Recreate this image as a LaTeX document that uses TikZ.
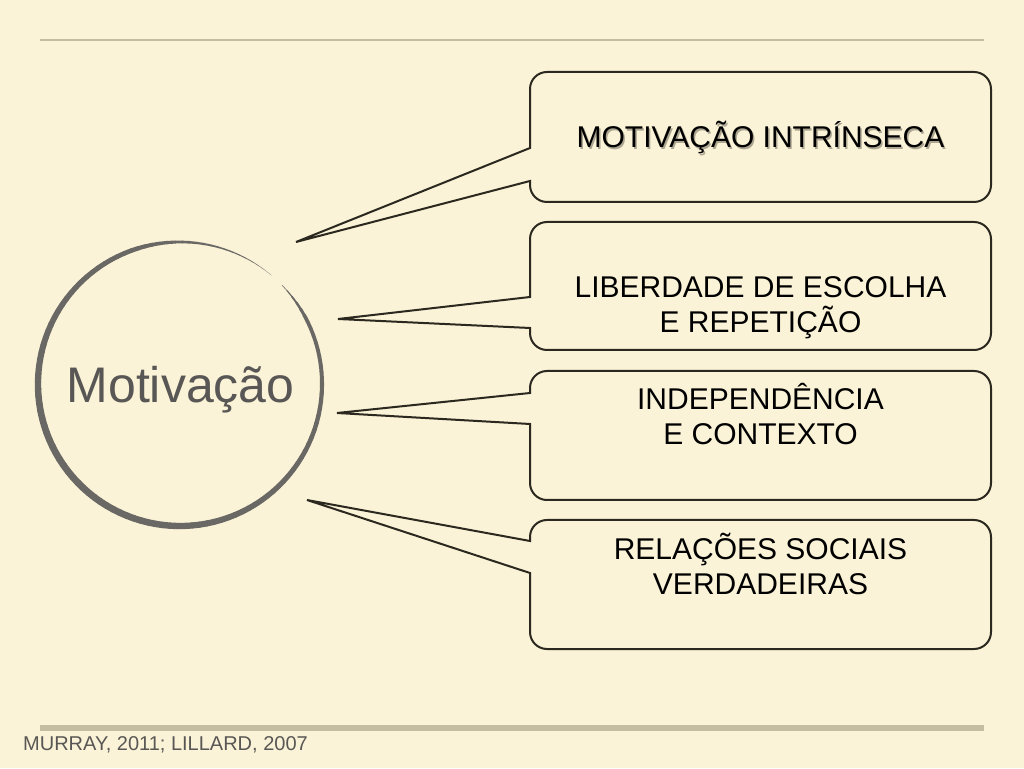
\documentclass[tikz,border=0pt]{standalone}
\usepackage{fontspec}
\setmainfont{Liberation Sans}
\usetikzlibrary{positioning}
\definecolor{PaperBg}{HTML}{FBF3D7}
\definecolor{RuleGray}{HTML}{C5BDA2}
\definecolor{RingGray}{HTML}{6A6864}
\definecolor{InkDark}{HTML}{2B2820}
\definecolor{TextGray}{HTML}{595755}
\definecolor{ShadowGray}{HTML}{ABA591}

% callout box: #1 top, #2 bottom, #3 upper wedge end, #4 lower wedge end, #5 tip
\newcommand{\calloutbox}[5]{%
  \draw[cline] (530,#3) -- (530,#1-17) arc[start angle=180, end angle=90, radius=17pt]
    -- (974,#1) arc[start angle=90, end angle=0, radius=17pt]
    -- (991,#2+17) arc[start angle=0, end angle=-90, radius=17pt]
    -- (547,#2) arc[start angle=270, end angle=180, radius=17pt]
    -- (530,#4) -- (#5) -- cycle;}

\begin{document}
\begin{tikzpicture}[
  x=1pt, y=1pt,
  cline/.style={draw=InkDark, line width=2pt, line join=miter},
  ring/.style={draw=RingGray, line cap=round},
  cbtext/.style={font=\fontsize{30}{35}\selectfont, align=center, inner sep=0pt,
                 text=black, anchor=base},
  rule/.style={draw=RuleGray},
]
  \useasboundingbox (0,0) rectangle (1024,768);
  \fill[PaperBg] (0,0) rectangle (1024,768);

  % Rules
  \draw[rule, line width=2.5pt] (40,728) -- (984,728);
  \draw[rule, line width=6.5pt] (40,40) -- (984,40);

  % Ring
  \begin{scope}[shift={(180,384)}]
    \foreach \t in {0,3,...,351} {
      \pgfmathsetmacro{\a}{44-\t}
      \pgfmathsetmacro{\w}{(5.2+1.6*cos(\a-225))*min(1,(\t+3)/18)*min(1,(354-\t)/60)}
      \draw[ring, line width=\w pt] (\a:142) arc[start angle=\a, end angle=\a-3, radius=142pt];
    }
  \end{scope}
  \node[font=\fontsize{50}{60}\selectfont, text=TextGray, anchor=base, inner sep=0pt]
    (motiv) at (180.5,365) {Motivação};

  % Tips
  \coordinate (tipA) at (296,526);
  \coordinate (tipB) at (338,449);
  \coordinate (tipC) at (337,355);
  \coordinate (tipD) at (307,268);

  % Callouts
  \calloutbox{696}{566}{620}{587}{tipA}
  \calloutbox{546}{418}{471}{440}{tipB}
  \calloutbox{397}{268}{375}{344}{tipC}
  \calloutbox{248}{119}{227}{195}{tipD}

  % Texts (base = last line)
  \node[cbtext, text=ShadowGray] (intrshadow) at (762,618.5) {MOTIVAÇÃO INTRÍNSECA};
  \node[cbtext] (intr) at (760.5,620) {MOTIVAÇÃO INTRÍNSECA};
  \node[cbtext] (liber) at (760.5,435) {LIBERDADE DE ESCOLHA\\E REPETIÇÃO};
  \node[cbtext] (indep) at (760.5,323) {INDEPENDÊNCIA\\E CONTEXTO};
  \node[cbtext] (relac) at (760.5,173) {RELAÇÕES SOCIAIS\\VERDADEIRAS};

  % Reference
  \node[font=\fontsize{20}{24}\selectfont, text=TextGray, anchor=base west, inner sep=0pt]
    (cite) at (23,18) {MURRAY, 2011; LILLARD, 2007};
\end{tikzpicture}
\end{document}
